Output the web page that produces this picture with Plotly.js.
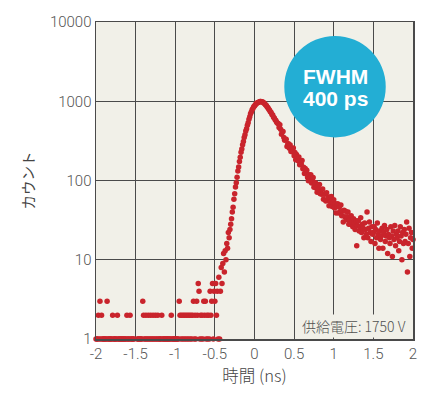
<!DOCTYPE html>
<html>
<head>
<meta charset="utf-8">
<script src="https://cdn.plot.ly/plotly-3.0.1.min.js"></script>
<style>html,body{margin:0;padding:0;background:#fff;}#chart{width:443px;height:393px;}</style>
</head>
<body>
<div id="chart"></div>
<script>
// Time bins (ns): start and bin width
const timeStart = -2.0;
const timeStep = 0.01;

// Photon counts per bin (401 bins, -2.00 ... 2.00 ns)
const counts = [
  1,1,1,2,1,3,1,2,1,1,
  1,1,1,1,3,1,1,1,1,1,
  1,2,1,1,1,1,1,2,1,1,
  1,1,1,1,1,1,1,1,1,2,
  1,1,1,2,1,1,1,1,1,0,
  0,0,1,1,1,1,1,1,1,3,
  2,1,1,2,1,1,2,1,1,2,
  1,1,2,1,1,2,1,1,2,1,
  1,1,1,2,1,1,1,1,1,1,
  1,1,1,1,1,2,1,1,1,1,
  1,1,1,1,1,3,2,1,2,1,
  2,1,2,1,2,1,2,1,2,1,
  2,1,2,3,1,2,1,3,2,5,
  4,1,2,1,2,1,3,2,3,1,
  2,1,2,1,4,2,3,5,1,4,
  3,5,2,4,1,6,1,4,8,5,
  9,12,7,13,10,16,14,22,19,24,
  28,33,40,46,58,68,83,94,110,132,
  148,174,196,228,250,283,310,348,378,420,
  450,498,536,594,636,694,730,784,812,852,
  872,905,921,948,955,974,980,992,996,985,
  978,970,945,930,898,882,846,826,790,768,
  738,722,680,670,628,616,584,570,544,526,
  523,466,505,442,384,414,416,349,321,328,
  331,268,288,291,256,280,233,250,231,258,
  206,225,183,213,195,177,198,158,173,161,
  179,141,147,123,142,125,135,109,99,118,
  106,118,93,102,109,82,91,94,80,71,
  88,77,89,68,76,67,78,58,67,68,
  55,70,57,61,48,62,54,63,47,53,
  57,45,51,39,47,51,39,46,40,49,
  36,41,30,42,35,41,32,35,40,28,
  32,28,36,30,26,33,29,24,31,15,
  27,31,23,26,34,22,28,25,19,29,
  24,21,40,19,25,30,22,17,26,21,
  22,26,16,24,19,29,21,14,23,18,
  20,25,14,22,27,17,20,24,12,21,
  19,16,26,20,11,23,18,27,15,21,
  19,23,13,17,26,20,10,22,16,24,
  17,21,30,7,16,25,11,19,22,14,
  18
];

// Axis tick labels
const xTickVals = [-2, -1.5, -1, -0.5, 0, 0.5, 1, 1.5, 2];
const xTickText = ['-2', '-1.5', '-1', '-0.5', '0', '0.5', '1', '1.5', '2'];
const yTickVals = [1, 10, 100, 1000, 10000];
const yTickText = ['1', '10', '100', '1000', '10000'];

// Texts
const xTitle = '時間 (ns)';
const yTitle = 'カウント';
const badgeLine1 = 'FWHM';
const badgeLine2 = '400 ps';
const voltageNote = '供給電圧: 1750 V';

const times = counts.map((_, i) => Math.round((timeStart + i * timeStep) * 100) / 100);

const tickFont = {family: 'Roboto, Liberation Sans, Arial, sans-serif', size: 15, color: '#555555', weight: 300};
const cjkFont = 'Noto Sans CJK JP, sans-serif';

const trace = {
  type: 'scatter',
  mode: 'markers',
  x: times,
  y: counts,
  cliponaxis: false,
  marker: {color: '#c9242c', size: 5.5, line: {width: 0}},
  hoverinfo: 'x+y'
};

const axisCommon = {
  showgrid: true,
  gridcolor: '#4a4a4a',
  gridwidth: 1.2,
  showline: true,
  linecolor: '#4a4a4a',
  linewidth: 1.5,
  mirror: true,
  zeroline: false,
  ticks: '',
  tickfont: tickFont,
  tickmode: 'array'
};

const layout = {
  width: 443,
  height: 393,
  autosize: false,
  margin: {l: 96, r: 30, t: 22, b: 54},
  paper_bgcolor: '#ffffff',
  plot_bgcolor: '#f1f0e8',
  showlegend: false,
  xaxis: Object.assign({}, axisCommon, {
    range: [-2, 2],
    tickvals: xTickVals,
    ticktext: xTickText,
    title: {text: xTitle, font: {family: cjkFont, size: 16.5, color: '#444444', weight: 300}, standoff: 9}
  }),
  yaxis: Object.assign({}, axisCommon, {
    type: 'log',
    range: [0, 4],
    tickvals: yTickVals,
    ticktext: yTickText,
    title: {text: yTitle, font: {family: cjkFont, size: 14.5, color: '#444444', weight: 400}, standoff: 12}
  }),
  shapes: [{
    type: 'circle',
    xref: 'paper', yref: 'paper',
    x0: 0.594, x1: 0.914, y0: 0.636, y1: 0.956,
    fillcolor: '#23aed4',
    line: {width: 0},
    layer: 'above'
  }],
  annotations: [
    {
      xref: 'paper', yref: 'paper', x: 0.754, y: 0.828,
      xanchor: 'center', yanchor: 'middle', showarrow: false,
      text: '<b>' + badgeLine1 + '</b>',
      font: {family: 'Liberation Sans, Arial, sans-serif', size: 21, color: '#ffffff'}
    },
    {
      xref: 'paper', yref: 'paper', x: 0.754, y: 0.76,
      xanchor: 'center', yanchor: 'middle', showarrow: false,
      text: '<b>' + badgeLine2 + '</b>',
      font: {family: 'Liberation Sans, Arial, sans-serif', size: 21, color: '#ffffff'}
    },
    {
      xref: 'paper', yref: 'paper', x: 0.985, y: 0.042,
      xanchor: 'right', yanchor: 'middle', showarrow: false,
      text: voltageNote,
      bgcolor: '#f1f0e8',
      borderpad: 1,
      font: {family: cjkFont, size: 14, color: '#505050', weight: 300}
    }
  ]
};

Plotly.newPlot('chart', [trace], layout, {displayModeBar: false, staticPlot: true});
</script>
</body>
</html>
